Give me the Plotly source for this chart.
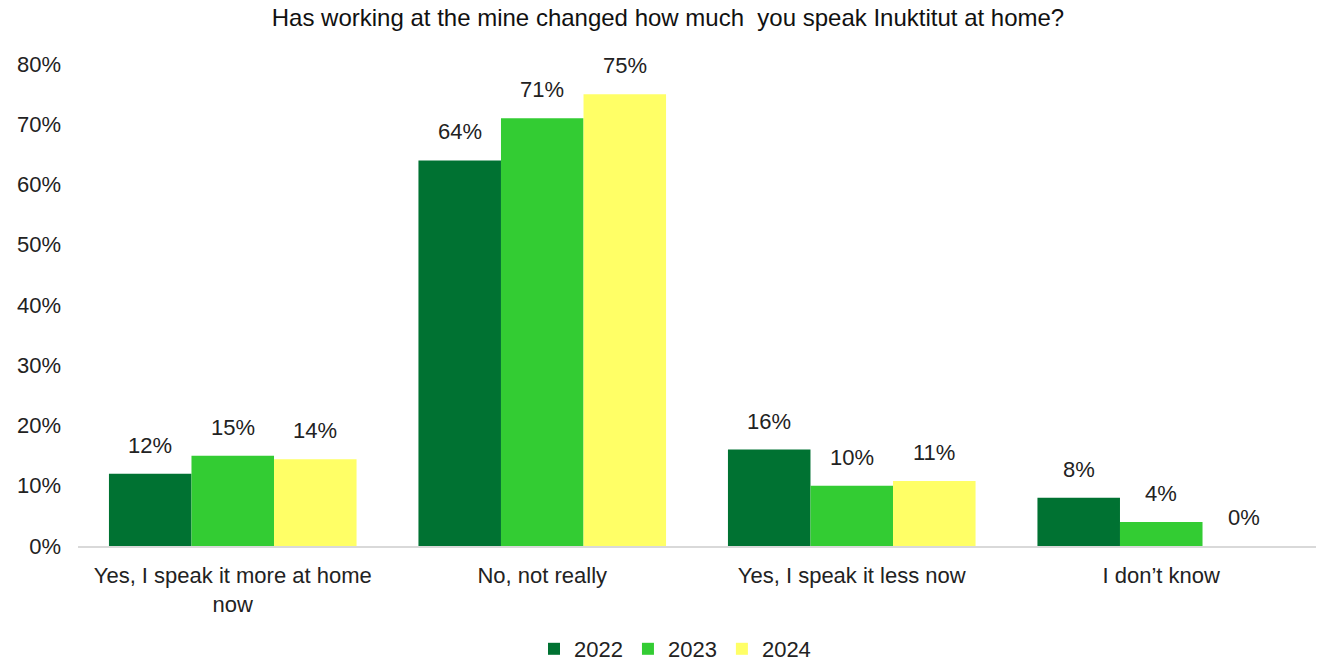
import plotly.graph_objects as go

categories = ["Yes, I speak it more at home<br>now", "No, not really", "Yes, I speak it less now", "I don’t know"]
years = ["2022", "2023", "2024"]
values_2022 = [0.12, 0.64, 0.16, 0.08]
values_2023 = [0.15, 0.71, 0.10, 0.04]
values_2024 = [0.144, 0.75, 0.108, 0.0]
colors = ["#007232", "#33CC33", "#FFFF66"]

series = [values_2022, values_2023, values_2024]
x_idx = list(range(len(categories)))

font_family = "Liberation Sans, Arial, sans-serif"
fs = 22
fig = go.Figure()
for yr, vals, col in zip(years, series, colors):
    fig.add_trace(go.Bar(x=x_idx, y=vals, name=yr, marker=dict(color=col, line=dict(width=0))))

# data labels via annotations
group_w = 0.8
bw = group_w / len(series)
for s, vals in enumerate(series):
    off = -group_w / 2 + bw * (s + 0.5)
    for i, v in enumerate(vals):
        fig.add_annotation(x=i + off, y=v, xref="x", yref="y", text=f"{round(v*100):.0f}%",
                           showarrow=False, yanchor="bottom", yshift=14,
                           font=dict(size=fs, color="#222", family=font_family))

fig.update_layout(
    width=1318, height=663,
    barmode="group", bargap=0.2, bargroupgap=0,
    plot_bgcolor="white", paper_bgcolor="white",
    margin=dict(l=78, r=2, t=64, b=117, autoexpand=False),
    title=dict(text="Has working at the mine changed how much  you speak Inuktitut at home?",
               x=668/1318, xanchor="center", xref="container", y=1 - 18/663, yanchor="middle",
               font=dict(size=24, color="#111", family=font_family)),
    font=dict(family=font_family, size=fs, color="#222"),
    legend=dict(orientation="h", xref="container", yref="container",
                x=675/1318, xanchor="center", y=14/663, yanchor="middle",
                font=dict(size=fs, color="#222"), itemwidth=30, traceorder="normal"),
    xaxis=dict(range=[-0.5, 3.5], tickvals=x_idx, ticktext=categories, showgrid=False,
               showline=True, linecolor="#D9D9D9", linewidth=2, ticks="", zeroline=False,
               tickfont=dict(size=fs, color="#222"), ticklabelstandoff=9, automargin=False),
    yaxis=dict(range=[0, 0.8], tickvals=[0, 0.1, 0.2, 0.3, 0.4, 0.5, 0.6, 0.7, 0.8],
               tickformat=".0%", showgrid=False, zeroline=False, showline=False, ticks="",
               tickfont=dict(size=fs, color="#222"), ticklabelstandoff=16, automargin=False),
)

fig.write_html("out.html", config={"displayModeBar": False},
               post_script="document.body.style.margin='0';document.body.style.overflow='hidden';")
